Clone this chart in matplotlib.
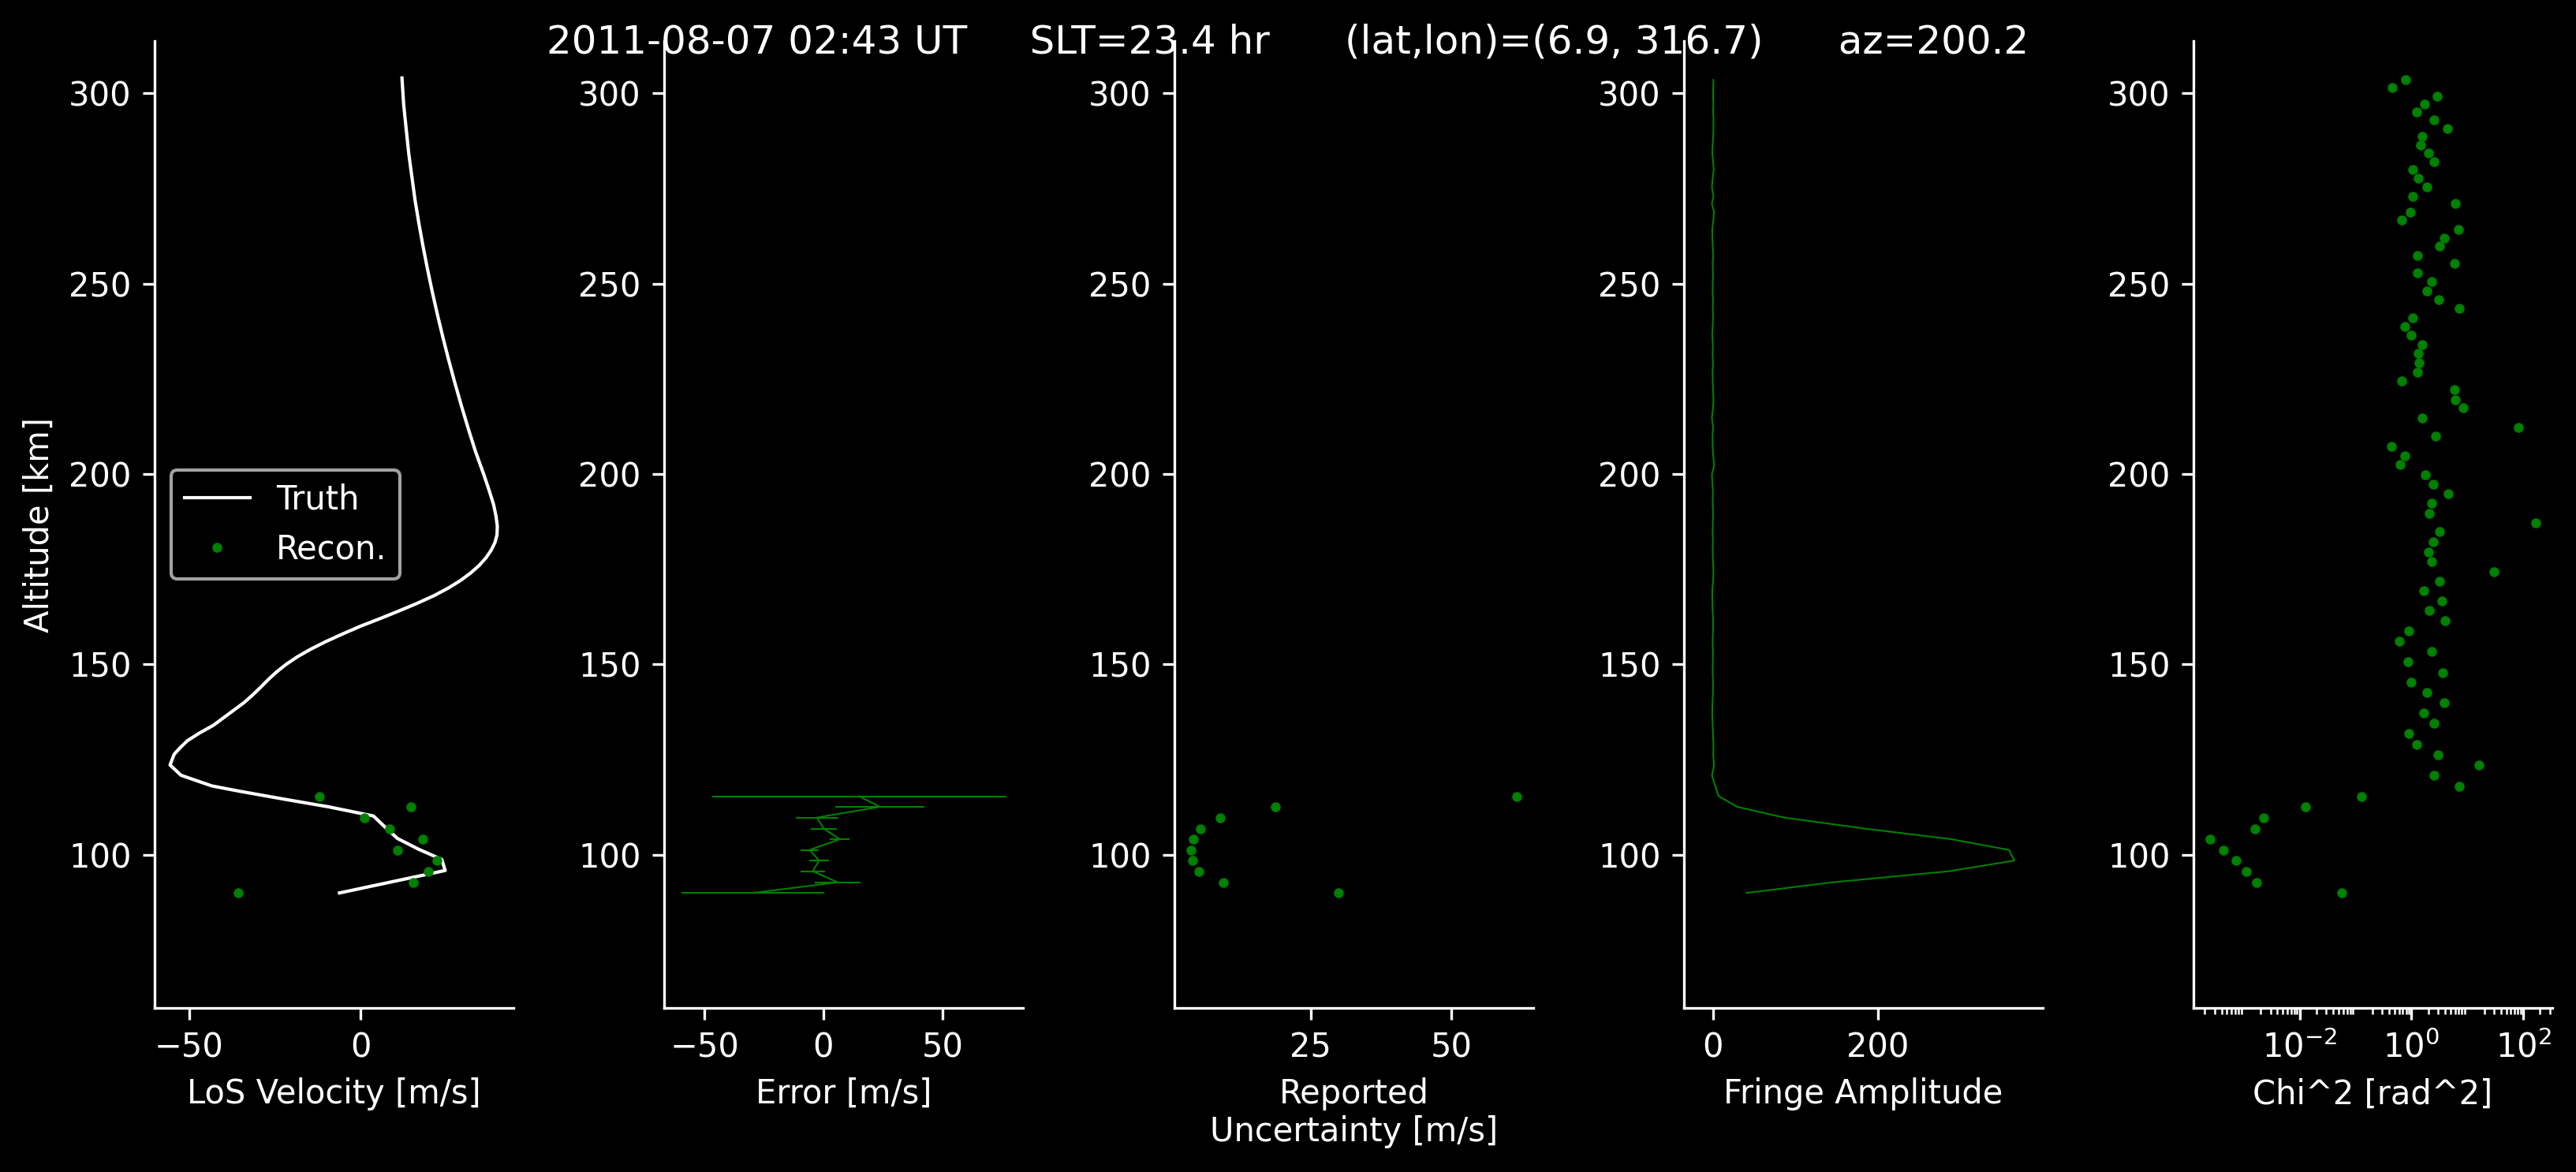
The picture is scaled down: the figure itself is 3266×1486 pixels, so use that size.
import matplotlib
matplotlib.use('Agg')
import matplotlib.pyplot as plt
from matplotlib.ticker import LogLocator, NullFormatter

plt.style.use('dark_background')

# tangent altitudes [km] of the 87 samples
alt = [90.0, 92.8, 95.7, 98.5, 101.3, 104.1, 106.9, 109.8, 112.6, 115.4,
       118.0, 120.8, 123.6, 126.2, 128.9, 131.8, 134.5, 137.2, 139.9, 142.6,
       145.3, 147.9, 150.8, 153.5, 156.0, 158.7, 161.4, 164.1, 166.6, 169.3,
       171.8, 174.4, 177.1, 179.6, 182.1, 184.8, 187.2, 189.7, 192.4, 194.9,
       197.3, 199.9, 202.4, 204.8, 207.3, 209.9, 212.2, 214.8, 217.3, 219.5,
       222.1, 224.4, 226.8, 229.2, 231.7, 233.9, 236.5, 238.7, 241.1, 243.4,
       245.8, 248.0, 250.6, 252.8, 255.2, 257.4, 259.8, 262.0, 264.2, 266.6,
       268.8, 271.0, 273.0, 275.4, 277.6, 280.0, 282.1, 284.3, 286.4, 288.7,
       290.8, 293.0, 295.1, 297.1, 299.3, 301.4, 303.5]

# true wind profile
truth_alt = [90.0, 95.9, 98.8, 101.5, 104.3, 107.0, 110.2, 112.6, 114.6, 116.7,
             118.1, 120.9, 123.6, 126.4, 128.0, 130.0, 132.0, 134.0, 136.0, 138.0,
             140.0, 142.0, 144.0, 146.0, 148.0, 150.0, 152.0, 154.0, 156.0, 158.0,
             160.0, 162.0, 164.0, 166.0, 168.0, 170.0, 172.0, 174.0, 176.0, 178.0,
             180.0, 182.0, 184.0, 186.3, 189.0, 192.0, 196.0, 200.0, 206.0, 212.0,
             218.0, 224.0, 230.0, 236.0, 242.0, 248.0, 254.0, 260.0, 266.0, 272.0,
             278.0, 284.0, 290.0, 297.0, 304.0]
truth_v = [-6.2, 24.6, 23.6, 16.8, 10.7, 7.4, 3.7, -9.3, -22.2, -35.3,
           -43.4, -52.4, -55.6, -54.4, -52.8, -50.5, -47.0, -43.0, -40.0, -37.0,
           -34.0, -31.5, -29.2, -27.0, -24.6, -21.8, -18.5, -14.6, -10.2, -5.3,
           -0.2, 5.5, 11.0, 16.3, 21.2, 25.4, 29.0, 32.0, 34.5, 36.5,
           38.0, 39.1, 39.7, 39.8, 39.4, 38.7, 37.3, 35.8, 33.4, 31.3,
           29.3, 27.4, 25.6, 23.9, 22.3, 20.8, 19.4, 18.1, 16.9, 15.8,
           14.9, 14.0, 13.3, 12.5, 12.0]

# reconstruction (valid only in the lowest 10 samples)
rec_alt = alt[:10]
rec_v = [-35.8, 15.3, 19.6, 22.2, 10.8, 18.0, 8.3, 1.1, 14.7, -12.1]
err_v = [-29.6, 6.0, -4.5, -1.8, -5.8, 6.9, 0.1, -2.7, 23.7, 15.0]
unc_v = [29.9, 9.5, 5.1, 4.0, 3.7, 4.1, 5.4, 8.9, 18.7, 61.7]

fringe = [40.9, 145.6, 286.4, 365.5, 359.0, 289.6, 184.0, 86.4, 29.8, 7.0,
          3.0, -1.0, 1.5,
          0.5, 0.7, 0.2, -0.3, -0.7, -0.4, 0.1, 0.3, -0.2, 0.0,
          0.1, -0.3, 0.2, 0.4, -0.2, -0.5, -0.7, 0.3, 0.7, 0.2,
          -0.2, 0.1, -0.3, 0.0, 0.3, -0.2, 0.1, -0.4, -1.1, 1.8,
          0.4, -0.2, -0.4, 0.3, -1.1, 0.2, 0.7, 0.3, -0.1, -0.4,
          0.2, -0.3, 0.1, -0.7, -0.2, 0.3, -0.1, 0.2, -0.3, 0.0,
          0.2, -0.2, 0.4, -0.1, -0.5, -0.7, 0.6, 1.5, -1.1, 0.7,
          -1.1, -0.2, 1.1, 0.3, -0.7, -0.2, 0.5, 0.7, 0.8, 0.4,
          0.6, 0.3, 0.5, 0.7]

chi2 = [0.057, 0.0017, 0.0011, 0.00072, 0.00043, 0.00025, 0.0016, 0.0023, 0.0127, 0.129,
        7.2, 2.5, 16.2, 2.95, 1.23, 0.89, 2.5, 1.66, 3.9, 1.86,
        1.0, 3.6, 0.86, 2.3, 0.60, 0.89, 4.0, 2.1, 3.5, 1.66,
        3.2, 30, 2.3, 2.0, 2.45, 3.2, 166, 2.1, 2.3, 4.6,
        2.45, 1.8, 0.62, 0.76, 0.44, 2.7, 81, 1.55, 8.5, 6.0,
        5.9, 0.66, 1.26, 1.35, 1.32, 1.55, 0.98, 0.76, 1.07, 7.2,
        3.1, 1.86, 2.3, 1.26, 5.9, 1.26, 3.2, 3.9, 6.9, 0.66,
        0.95, 6.0, 1.07, 1.86, 1.32, 1.05, 2.5, 2.0, 1.48, 1.58,
        4.4, 2.5, 1.23, 1.7, 2.9, 0.45, 0.78]

title = '2011-08-07 02:43 UT     SLT=23.4 hr      (lat,lon)=(6.9, 316.7)      az=200.2'

fig = plt.figure(figsize=(3266 / 300, 1486 / 300), dpi=300)
lefts = [196, 842, 1489, 2135, 2781]
axs = [fig.add_axes([l / 3266, 208 / 1486, 455 / 3266, 1226 / 1486]) for l in lefts]

ax = axs[0]
ax.plot(truth_v, truth_alt, color='w', lw=1, label='Truth')
ax.plot(rec_v, rec_alt, 'g.', ms=4, label='Recon.')
ax.set_xlim(-60.1, 44.5)
ax.set_xticks([-50, 0])
ax.set_xlabel('LoS Velocity [m/s]')
ax.set_ylabel('Altitude [km]')
ax.legend(loc='center left')

ax = axs[1]
ax.errorbar(err_v, rec_alt, xerr=unc_v, color='g', lw=0.5, elinewidth=0.5, capsize=0)
ax.set_xlim(-66.9, 83.8)
ax.set_xticks([-50, 0, 50])
ax.set_xlabel('Error [m/s]')

ax = axs[2]
ax.plot(unc_v, rec_alt, 'g.', ms=4)
ax.set_xlim(0.8, 64.6)
ax.set_xticks([25, 50])
ax.set_xlabel('Reported\nUncertainty [m/s]')

ax = axs[3]
ax.plot(fringe, alt, color='g', lw=0.5)
ax.set_xlim(-35, 400)
ax.set_xticks([0, 200])
ax.set_xlabel('Fringe Amplitude')

ax = axs[4]
ax.semilogx(chi2, alt, 'g.', ms=4)
ax.set_xlim(10 ** -3.9, 10 ** 2.52)
ax.xaxis.set_major_locator(LogLocator(base=10, subs=(1.0,), numticks=10))
ax.set_xticks([1e-2, 1e0, 1e2])
ax.xaxis.set_minor_locator(LogLocator(base=10, subs=(2, 3, 4, 5, 6, 7, 8, 9), numticks=20))
ax.xaxis.set_minor_formatter(NullFormatter())
ax.set_xlabel('Chi^2 [rad^2]')

for ax in axs:
    ax.set_ylim(59.8, 313.7)
    ax.set_yticks([100, 150, 200, 250, 300])
    ax.spines['top'].set_visible(False)
    ax.spines['right'].set_visible(False)

fig.suptitle(title, fontsize=12)
fig.savefig('out.png', dpi=300)
